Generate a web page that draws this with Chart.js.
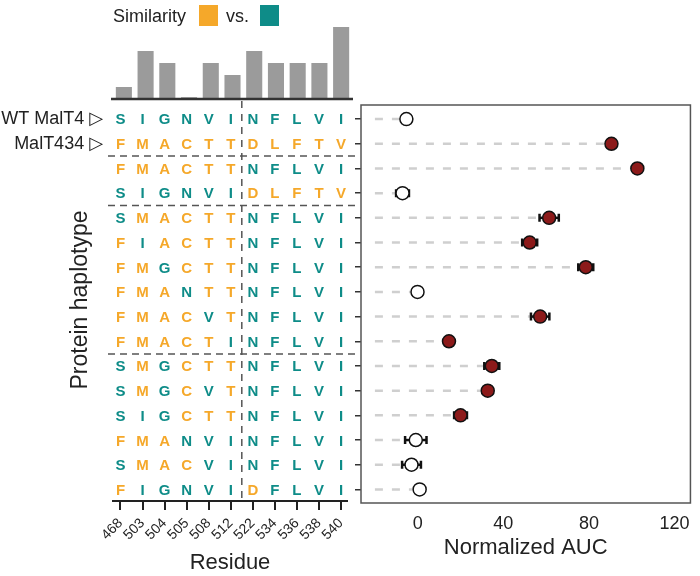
<!DOCTYPE html>
<html>
<head>
<meta charset="utf-8">
<script src="https://cdn.jsdelivr.net/npm/chart.js@4/dist/chart.umd.min.js"></script>
<style>
  body { margin: 0; background: #fff; }
  #wrap { position: relative; width: 700px; height: 576px; font-family: "Liberation Sans", Arial, sans-serif; color: #222; }
  #wrap canvas { position: absolute; left: 0; top: 0; }
  .lg { position: absolute; font-size: 18px; line-height: 20px; }
  .sw { position: absolute; width: 19px; height: 21px; }
</style>
</head>
<body>
<div id="wrap">
  <canvas id="simChart" width="700" height="576"></canvas>
  <canvas id="gridChart" width="700" height="576"></canvas>
  <canvas id="aucChart" width="700" height="576"></canvas>
  <div class="lg" style="left:113px; top:6px;">Similarity</div>
  <div class="sw" style="left:199px; top:5px; background:#f5a82a;"></div>
  <div class="lg" style="left:226px; top:6px;">vs.</div>
  <div class="sw" style="left:260px; top:5px; background:#0e8c88;"></div>
</div>
<script>
// Datos
const residues = ['468', '503', '504', '505', '508', '512', '522', '534', '536', '538', '540'];
const similarity = [1, 4, 3, 0.15, 3, 2, 4, 3, 3, 3, 6];

const haplotypes = [
    'SIGNVINFLVI', 'FMACTTDLFTV', 'FMACTTNFLVI', 'SIGNVIDLFTV',
    'SMACTTNFLVI', 'FIACTTNFLVI', 'FMGCTTNFLVI', 'FMANTTNFLVI',
    'FMACVTNFLVI', 'FMACTINFLVI', 'SMGCTTNFLVI', 'SMGCVTNFLVI',
    'SIGCTTNFLVI', 'FMANVINFLVI', 'SMACVINFLVI', 'FIGNVIDFLVI'
];
const haplotypeNames = ['WT MalT4', 'MalT434'];
const groupBreaks = [1.5, 3.5, 9.5];
const domainBreak = 5.5;

const aucMean = [-5.3, 90.5, 102.6, -7.1, 61.4, 52.3, 78.5, -0.1, 57.2, 14.6, 34.6, 32.7, 20, -0.9, -2.9, 0.9];
const aucErr = [0.5, 0.5, 0.5, 3, 4.5, 3.5, 3.5, 1.5, 4.3, 0.5, 3.5, 2, 3, 5, 4.4, 0.5];
const significant = [false, true, true, false, true, true, true, false, true, true, true, true, true, false, false, false];
const aucTicks = [0, 40, 80, 120];
const leaderStart = -20;

const ORANGE = '#f5a82a';
const TEAL = '#0e8c88';
const INK = '#222';

Chart.defaults.font.family = '"Liberation Sans", Arial, "DejaVu Sans", sans-serif';
Chart.defaults.color = INK;
Chart.defaults.plugins.legend.display = false;
Chart.defaults.plugins.tooltip.enabled = false;

// Barras de similitud
new Chart(document.getElementById('simChart'), {
    type: 'bar',
    data: {
        labels: residues,
        datasets: [{
            data: similarity,
            backgroundColor: '#9b9b9b',
            barPercentage: 0.74,
            categoryPercentage: 1
        }]
    },
    options: {
        responsive: false,
        animation: false,
        layout: { padding: { left: 113, right: 348, top: 15, bottom: 477 } },
        scales: {
            x: { display: false },
            y: { display: false, min: 0, max: 7 }
        }
    },
    plugins: [{
        id: 'baseline',
        afterDatasetsDraw(chart) {
            const { ctx, chartArea, scales } = chart;
            const y = scales.y.getPixelForValue(0);
            ctx.save();
            ctx.strokeStyle = '#333';
            ctx.lineWidth = 2.5;
            ctx.beginPath();
            ctx.moveTo(chartArea.left - 2, y);
            ctx.lineTo(chartArea.right + 1, y);
            ctx.stroke();
            ctx.restore();
        }
    }]
});

// Rejilla de haplotipos
const wt = haplotypes[0];
const letterPoints = haplotypes.flatMap((h, r) =>
    h.split('').map((aa, c) => ({ x: c, y: r, aa: aa, wt: aa === wt[c] })));

new Chart(document.getElementById('gridChart'), {
    type: 'scatter',
    data: {
        datasets: [{ data: letterPoints, pointRadius: 0 }]
    },
    options: {
        responsive: false,
        animation: false,
        layout: { padding: { left: 0, right: 353, top: 99, bottom: 0 } },
        scales: {
            x: {
                type: 'linear',
                min: -0.34,
                max: 10.27,
                afterBuildTicks: s => { s.ticks = residues.map((_, i) => ({ value: i })); },
                afterFit: s => { s.height = 75; },
                ticks: {
                    callback: v => residues[v],
                    autoSkip: false,
                    minRotation: 45,
                    maxRotation: 45,
                    padding: 5,
                    font: { size: 14 }
                },
                grid: { display: true, drawOnChartArea: false, drawTicks: true, tickLength: 9, color: INK, lineWidth: 2 },
                border: { display: true, color: INK, width: 2 },
                title: { display: true, text: 'Residue', font: { size: 22 }, padding: { top: 0, bottom: 0 } }
            },
            y: {
                type: 'linear',
                reverse: true,
                min: -0.81,
                max: 15.45,
                afterBuildTicks: s => { s.ticks = haplotypes.map((_, i) => ({ value: i })); },
                afterFit: s => { s.width = 113; },
                ticks: {
                    callback: v => haplotypeNames[v] ? haplotypeNames[v] + ' \u25B7' : '',
                    autoSkip: false,
                    padding: 2,
                    font: { size: 18 }
                },
                grid: { display: false },
                border: { display: false },
                title: { display: true, text: 'Protein haplotype', font: { size: 23 }, padding: { top: 67, bottom: 0 } }
            }
        }
    },
    plugins: [{
        id: 'letters',
        beforeDatasetsDraw(chart) {
            const { ctx, chartArea, scales: { x, y } } = chart;
            ctx.save();
            ctx.strokeStyle = '#555';
            ctx.lineWidth = 1.5;
            ctx.setLineDash([7, 5]);
            groupBreaks.forEach(b => {
                const py = y.getPixelForValue(b);
                ctx.beginPath();
                ctx.moveTo(chartArea.left - 5, py);
                ctx.lineTo(chartArea.right + 8, py);
                ctx.stroke();
            });
            const px = x.getPixelForValue(domainBreak);
            ctx.setLineDash([7, 6]);
            ctx.beginPath();
            ctx.moveTo(px, chartArea.top + 2);
            ctx.lineTo(px, chartArea.bottom);
            ctx.stroke();
            ctx.restore();
        },
        afterDatasetsDraw(chart) {
            const { ctx } = chart;
            const meta = chart.getDatasetMeta(0);
            const pts = chart.data.datasets[0].data;
            ctx.save();
            ctx.font = 'bold 15px "Liberation Sans", Arial, sans-serif';
            ctx.textAlign = 'center';
            ctx.textBaseline = 'middle';
            meta.data.forEach((el, i) => {
                ctx.fillStyle = pts[i].wt ? TEAL : ORANGE;
                ctx.fillText(pts[i].aa, el.x, el.y + 1);
            });
            ctx.restore();
        }
    }]
});

// AUC normalizado
new Chart(document.getElementById('aucChart'), {
    type: 'scatter',
    data: {
        datasets: [{
            data: aucMean.map((v, i) => ({ x: v, y: i })),
            pointRadius: 6.5,
            pointBorderWidth: 1.5,
            pointBorderColor: '#111',
            pointBackgroundColor: significant.map(s => s ? '#8c1a1a' : '#ffffff')
        }]
    },
    options: {
        responsive: false,
        animation: false,
        layout: { padding: { left: 353, right: 8, top: 105, bottom: 0 } },
        scales: {
            x: {
                type: 'linear',
                min: -26.5,
                max: 127.4,
                afterBuildTicks: s => { s.ticks = aucTicks.map(v => ({ value: v })); },
                afterFit: s => { s.height = 73; },
                ticks: { font: { size: 18 }, padding: 10 },
                grid: { display: false, drawTicks: false },
                border: { display: false },
                title: { display: true, text: 'Normalized AUC', font: { size: 22 }, padding: { top: 0, bottom: 15 } }
            },
            y: {
                type: 'linear',
                reverse: true,
                min: -0.57,
                max: 15.55,
                afterBuildTicks: s => { s.ticks = aucMean.map((_, i) => ({ value: i })); },
                afterFit: s => { s.width = 8; },
                ticks: { callback: () => '', padding: 0 },
                grid: { display: true, drawOnChartArea: false, drawTicks: true, tickLength: 6, color: '#333', lineWidth: 1.5 },
                border: { display: false }
            }
        }
    },
    plugins: [{
        id: 'leadersAndErrors',
        beforeDatasetsDraw(chart) {
            const { ctx, scales: { x, y } } = chart;
            ctx.save();
            // líneas guía
            ctx.strokeStyle = '#cfcfcf';
            ctx.lineWidth = 2.5;
            ctx.setLineDash([8, 9]);
            aucMean.forEach((v, i) => {
                const py = y.getPixelForValue(i);
                const x0 = x.getPixelForValue(leaderStart);
                const x1 = x.getPixelForValue(v) - 7;
                if (x1 <= x0) return;
                ctx.beginPath();
                ctx.moveTo(x0, py);
                ctx.lineTo(x1, py);
                ctx.stroke();
            });
            // barras de error
            ctx.setLineDash([]);
            ctx.strokeStyle = '#111';
            aucMean.forEach((v, i) => {
                const py = y.getPixelForValue(i);
                const lo = x.getPixelForValue(v - aucErr[i]);
                const hi = x.getPixelForValue(v + aucErr[i]);
                ctx.lineWidth = 2.5;
                ctx.beginPath();
                ctx.moveTo(lo, py);
                ctx.lineTo(hi, py);
                ctx.stroke();
                ctx.lineWidth = 2.5;
                ctx.beginPath();
                ctx.moveTo(lo, py - 4);
                ctx.lineTo(lo, py + 4);
                ctx.moveTo(hi, py - 4);
                ctx.lineTo(hi, py + 4);
                ctx.stroke();
            });
            ctx.restore();
        },
        afterDraw(chart) {
            const { ctx, chartArea } = chart;
            ctx.save();
            ctx.strokeStyle = '#555';
            ctx.lineWidth = 1.5;
            ctx.strokeRect(chartArea.left, chartArea.top, chartArea.right - chartArea.left, chartArea.bottom - chartArea.top);
            ctx.restore();
        }
    }]
});
</script>
</body>
</html>
